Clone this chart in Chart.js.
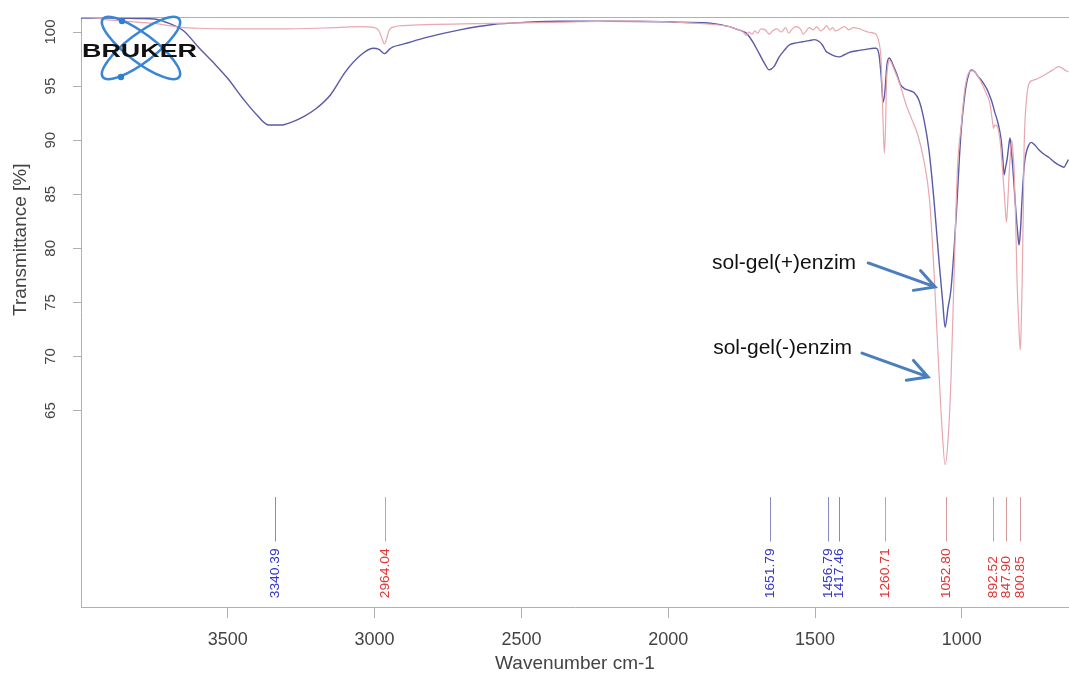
<!DOCTYPE html>
<html>
<head>
<meta charset="utf-8">
<script src="https://cdn.jsdelivr.net/npm/chart.js@4.4.1/dist/chart.umd.min.js"></script>
<style>
  html, body { margin: 0; padding: 0; background: #fff; }
</style>
</head>
<body>
<canvas id="canvas" width="1069" height="677"></canvas>
<script>
'use strict';

// sol-gel(+)enzim  (blue trace)
const plusWn = [4000, 3900, 3800, 3750, 3700, 3650, 3600, 3550, 3500, 3450, 3400, 3360, 3320, 3280, 3240, 3200, 3150, 3100, 3050, 3006, 2985, 2966, 2950, 2939, 2900, 2823, 2710, 2598, 2483, 2371, 2200, 2000, 1962, 1850, 1792, 1760, 1734, 1710, 1690, 1670, 1656, 1640, 1622, 1605, 1588, 1565, 1543, 1520, 1503, 1485, 1475, 1462, 1450, 1435, 1418, 1400, 1385, 1373, 1350, 1326, 1300, 1292, 1282, 1275, 1268, 1262, 1255, 1247, 1235, 1220, 1210, 1197, 1180, 1163, 1146, 1129, 1112, 1095, 1078, 1065, 1057, 1047, 1037, 1025, 1016, 1008, 1002, 993, 985, 975, 968, 955, 945, 935, 925, 914, 905, 897, 888, 880, 872, 866, 861, 856, 851, 846, 841, 836, 831, 826, 820, 815, 810, 805, 800, 795, 788, 782, 773, 764, 750, 737, 720, 703, 686, 669, 652, 645, 637];
const plusT = [101.3, 101.3, 101.25, 101.2, 100.8, 100.1, 98.6, 97.2, 95.7, 93.9, 92.3, 91.4, 91.4, 91.7, 92.2, 92.9, 94.2, 96.3, 97.8, 98.5, 98.4, 98.0, 98.4, 98.6, 98.9, 99.5, 100.2, 100.7, 100.9, 101.0, 101.0, 100.95, 100.9, 100.8, 100.5, 100.2, 99.9, 99.0, 98.0, 97.0, 96.5, 96.8, 97.7, 98.3, 98.8, 99.0, 99.1, 99.2, 99.3, 99.1, 98.8, 98.2, 98.0, 97.8, 97.7, 97.9, 98.1, 98.2, 98.3, 98.4, 98.5, 98.5, 97.9, 96.0, 93.5, 94.5, 97.0, 97.6, 97.0, 96.0, 95.2, 94.8, 94.6, 94.4, 93.7, 91.9, 89.1, 84.5, 78.9, 75.0, 72.7, 74.5, 76.2, 80.5, 84.5, 88.5, 91.0, 93.5, 95.1, 96.2, 96.5, 96.3, 95.9, 95.6, 95.2, 94.7, 94.1, 93.5, 92.6, 91.9, 91.0, 90.0, 88.5, 86.8, 87.5, 88.2, 89.3, 90.2, 89.0, 87.3, 85.0, 83.1, 81.5, 80.3, 81.8, 84.5, 87.5, 88.7, 89.5, 89.8, 89.5, 89.1, 88.7, 88.4, 88.0, 87.7, 87.5, 87.8, 88.2];

// sol-gel(-)enzim  (pink trace)
const minusWn = [4000, 3950, 3900, 3850, 3800, 3750, 3700, 3650, 3600, 3500, 3400, 3300, 3200, 3100, 3050, 3000, 2985, 2975, 2966, 2958, 2950, 2930, 2900, 2800, 2700, 2600, 2500, 2400, 2300, 2200, 2100, 2000, 1962, 1900, 1850, 1800, 1780, 1760, 1745, 1735, 1725, 1715, 1705, 1695, 1685, 1670, 1655, 1645, 1630, 1615, 1600, 1590, 1580, 1565, 1550, 1540, 1530, 1520, 1505, 1495, 1480, 1470, 1460, 1450, 1440, 1430, 1415, 1400, 1385, 1370, 1350, 1330, 1320, 1300, 1290, 1282, 1275, 1268, 1264, 1260, 1257, 1250, 1247, 1230, 1210, 1190, 1170, 1150, 1130, 1110, 1095, 1080, 1067, 1057, 1047, 1037, 1025, 1015, 1002, 990, 975, 965, 955, 935, 915, 905, 900, 895, 892, 888, 880, 870, 860, 854, 848, 844, 840, 835, 830, 826, 822, 817, 812, 806, 801, 798, 795, 791, 788, 780, 770, 750, 720, 690, 670, 650, 637];
const minusT = [101.4, 101.3, 101.1, 101.0, 100.9, 100.8, 100.6, 100.4, 100.35, 100.3, 100.3, 100.3, 100.35, 100.45, 100.5, 100.4, 100.1, 99.4, 98.9, 99.5, 100.2, 100.5, 100.6, 100.7, 100.75, 100.8, 100.85, 100.9, 100.95, 101.0, 101.0, 100.95, 100.9, 100.8, 100.7, 100.55, 100.4, 100.2, 100.0, 99.7, 100.0, 99.8, 100.1, 99.9, 100.3, 100.2, 99.8, 100.1, 100.3, 100.0, 100.4, 99.9, 100.2, 100.5, 100.3, 99.8, 100.1, 100.4, 100.2, 100.5, 100.1, 100.3, 100.6, 100.2, 100.4, 100.1, 100.3, 100.5, 100.2, 100.4, 100.3, 100.1, 100.0, 99.9, 99.7, 99.0, 97.4, 91.5, 88.8, 91.0, 95.0, 97.2, 97.4, 96.5, 95.1, 93.3, 91.9, 90.5, 88.2, 84.5, 78.0, 69.7, 63.2, 60.0, 62.3, 67.8, 78.9, 87.3, 91.4, 94.7, 96.3, 96.4, 96.3, 95.4, 94.2, 93.5, 92.6, 91.6, 91.1, 91.4, 91.3, 90.0, 86.8, 84.5, 82.4, 84.0, 86.3, 88.5, 90.0, 89.0, 87.3, 83.0, 77.1, 73.0, 70.6, 72.5, 76.2, 83.0, 89.1, 93.7, 95.3, 95.6, 96.0, 96.5, 96.8, 96.5, 96.3];

const xTicks = [3500, 3000, 2500, 2000, 1500, 1000];
const yTicks = [65, 70, 75, 80, 85, 90, 95, 100];

// peak picks printed under the spectra
const peakWn = [3340.39, 2964.04, 1651.79, 1456.79, 1417.46, 1260.71, 1052.80, 892.52, 847.90, 800.85];
const peakSeries = ['plus', 'minus', 'plus', 'plus', 'plus', 'minus', 'minus', 'minus', 'minus', 'minus'];

const FONT = '"Liberation Sans", Arial, sans-serif';
const AXIS = '#b0b0b0';
const TEXT = '#444';
const BLUE = '#5a5aa6';
const PINK = '#e9a7b0';

const toPoints = (wn, t) => wn.map((v, i) => ({ x: v, y: t[i] }));

const arrow = (ctx, x1, y1, x2, y2) => {
  const ang = Math.atan2(y2 - y1, x2 - x1);
  const len = 22;
  ctx.beginPath();
  ctx.moveTo(x1, y1);
  ctx.lineTo(x2, y2);
  ctx.moveTo(x2 - len * Math.cos(ang - 0.5), y2 - len * Math.sin(ang - 0.5));
  ctx.lineTo(x2, y2);
  ctx.lineTo(x2 - len * Math.cos(ang + 0.5), y2 - len * Math.sin(ang + 0.5));
  ctx.stroke();
};

const extras = {
  id: 'extras',
  afterDatasetsDraw(chart) {
    const { ctx, chartArea: a, scales: { x, y } } = chart;
    ctx.save();

    // frame line along the top
    ctx.strokeStyle = AXIS;
    ctx.lineWidth = 1;
    ctx.beginPath();
    ctx.moveTo(a.left, a.top + 0.5);
    ctx.lineTo(a.right, a.top + 0.5);
    ctx.stroke();

    // rotated y tick labels
    ctx.fillStyle = TEXT;
    ctx.font = '15px ' + FONT;
    ctx.textAlign = 'center';
    ctx.textBaseline = 'middle';
    y.ticks.forEach(t => {
      ctx.save();
      ctx.translate(51, y.getPixelForValue(t.value));
      ctx.rotate(-Math.PI / 2);
      ctx.fillText(String(t.value), 0, 0);
      ctx.restore();
    });

    // y title
    ctx.save();
    ctx.font = '19px ' + FONT;
    ctx.translate(21, y.getPixelForValue(80.8));
    ctx.rotate(-Math.PI / 2);
    ctx.fillText('Transmittance [%]', 0, 0);
    ctx.restore();

    // peak picks
    ctx.font = '12px ' + FONT;
    ctx.textAlign = 'left';
    peakWn.forEach((wn, i) => {
      const px = Math.round(x.getPixelForValue(wn)) + 0.5;
      const plus = peakSeries[i] === 'plus';
      ctx.strokeStyle = plus ? '#8a8ac0' : '#d49a9a';
      ctx.beginPath();
      ctx.moveTo(px, y.getPixelForValue(57.0));
      ctx.lineTo(px, y.getPixelForValue(52.9));
      ctx.stroke();
      ctx.fillStyle = plus ? '#3535c8' : '#e03535';
      ctx.save();
      ctx.translate(px, y.getPixelForValue(47.65));
      ctx.rotate(-Math.PI / 2);
      ctx.scale(1.15, 1);
      ctx.fillText(wn.toFixed(2), 0, 0);
      ctx.restore();
    });

    // Bruker logo
    ctx.strokeStyle = '#3a86d6';
    ctx.lineWidth = 2.5;
    [0.65, -0.65].forEach(r => {
      ctx.beginPath();
      ctx.ellipse(141, 48, 48, 14, r, 0, Math.PI * 2);
      ctx.stroke();
    });
    ctx.fillStyle = '#2f7ed0';
    [[122, 21], [121, 77]].forEach(([dx, dy]) => {
      ctx.beginPath();
      ctx.arc(dx, dy, 3.2, 0, Math.PI * 2);
      ctx.fill();
    });
    ctx.save();
    ctx.font = 'bold 19px ' + FONT;
    ctx.textAlign = 'left';
    ctx.textBaseline = 'alphabetic';
    const w = ctx.measureText('BRUKER').width;
    ctx.translate(82, 57);
    ctx.scale(115 / w, 1);
    ctx.fillStyle = '#111';
    ctx.fillText('BRUKER', 0, 0);
    ctx.restore();

    // annotations with arrows
    ctx.fillStyle = '#111';
    ctx.font = '21px ' + FONT;
    ctx.textAlign = 'left';
    ctx.textBaseline = 'middle';
    ctx.fillText('sol-gel(+)enzim', x.getPixelForValue(1851), y.getPixelForValue(78.65));
    ctx.fillText('sol-gel(-)enzim', x.getPixelForValue(1847), y.getPixelForValue(70.79));
    ctx.strokeStyle = '#4a7ebf';
    ctx.lineWidth = 3;
    ctx.lineCap = 'round';
    arrow(ctx, x.getPixelForValue(1319), y.getPixelForValue(78.65), x.getPixelForValue(1091), y.getPixelForValue(76.43));
    arrow(ctx, x.getPixelForValue(1340), y.getPixelForValue(70.32), x.getPixelForValue(1115), y.getPixelForValue(68.11));

    ctx.restore();
  }
};

const ctx = document.getElementById('canvas').getContext('2d');

new Chart(ctx, {
  type: 'line',
  data: {
    datasets: [
      {
        label: 'sol-gel(-)enzim',
        data: toPoints(minusWn, minusT),
        borderColor: PINK,
        borderWidth: 1.2,
        pointRadius: 0,
        cubicInterpolationMode: 'monotone',
      },
      {
        label: 'sol-gel(+)enzim',
        data: toPoints(plusWn, plusT),
        borderColor: BLUE,
        borderWidth: 1.4,
        pointRadius: 0,
        cubicInterpolationMode: 'monotone',
      },
    ],
  },
  options: {
    responsive: false,
    animation: false,
    layout: { padding: { top: 17, left: 0, right: 0, bottom: 0 } },
    scales: {
      x: {
        type: 'linear',
        reverse: true,
        min: 635,
        max: 4000,
        afterBuildTicks: s => { s.ticks = xTicks.map(v => ({ value: v })); },
        afterFit: s => { s.height = 70; },
        ticks: {
          color: TEXT,
          font: { family: FONT, size: 18 },
          padding: 11,
          maxRotation: 0,
          callback: v => String(v),
        },
        grid: { drawOnChartArea: false, tickLength: 11, color: AXIS },
        border: { color: AXIS },
        title: {
          display: true,
          text: 'Wavenumber cm-1',
          color: TEXT,
          font: { family: FONT, size: 19 },
          padding: { top: 0, bottom: 2 },
        },
      },
      y: {
        min: 46.84,
        max: 101.39,
        afterBuildTicks: s => { s.ticks = yTicks.map(v => ({ value: v })); },
        afterFit: s => { s.width = 81; },
        ticks: { display: false },
        grid: { drawOnChartArea: false, tickLength: 8, color: AXIS },
        border: { color: AXIS },
      },
    },
    plugins: {
      legend: { display: false },
      tooltip: { enabled: false },
    },
  },
  plugins: [extras],
});
</script>
</body>
</html>
